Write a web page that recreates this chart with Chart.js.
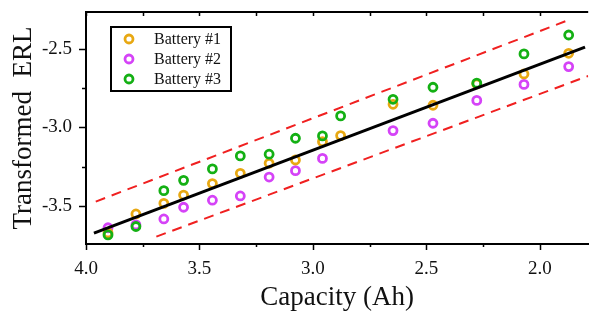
<!DOCTYPE html>
<html>
<head>
<meta charset="utf-8">
<script src="https://cdn.jsdelivr.net/npm/chart.js@4"></script>
<style>
  html, body { margin: 0; padding: 0; background: #fff; }
  #wrap { width: 595px; height: 323px; }
</style>
</head>
<body>
<div id="wrap"><canvas id="erlChart" width="595" height="323"></canvas></div>
<script>
// capacity (Ah) of each measurement, same for all batteries
const capacity = [3.903, 3.78, 3.657, 3.57, 3.443, 3.32, 3.193, 3.077, 2.958, 2.878, 2.647, 2.471, 2.278, 2.07, 1.873];
const battery1 = [-3.674, -3.553, -3.485, -3.432, -3.359, -3.293, -3.229, -3.208, -3.091, -3.052, -2.852, -2.858, -2.722, -2.658, -2.526];
const battery2 = [-3.641, -3.623, -3.585, -3.51, -3.465, -3.438, -3.317, -3.276, -3.198, null, -3.02, -2.973, -2.827, -2.725, -2.611];
const battery3 = [-3.687, -3.633, -3.404, -3.338, -3.265, -3.182, -3.171, -3.069, -3.054, -2.926, -2.82, -2.743, -2.717, -2.53, -2.409];

// fitted line and the two bounds (end points)
const fitX = [3.965, 1.801];
const fitY = [-3.676, -2.487];
const upperX = [3.957, 1.86];
const upperY = [-3.474, -2.306];
const lowerX = [3.69, 1.787];
const lowerY = [-3.698, -2.671];

const xTicks = [4.0, 3.5, 3.0, 2.5, 2.0];
const yTicks = [-3.5, -3.0, -2.5];
const seriesNames = ['Battery #1', 'Battery #2', 'Battery #3'];

const serif = "'Liberation Serif', 'DejaVu Serif', serif";

function pts(xs, ys) {
    return xs.map((x, i) => ({ x: x, y: ys[i] })).filter(p => p.y !== null);
}

function batterySet(label, ys, color, order) {
    return {
        type: 'scatter',
        label: label,
        data: pts(capacity, ys),
        borderColor: color,
        backgroundColor: 'rgba(0,0,0,0)',
        pointRadius: 4,
        pointBorderWidth: 2.8,
        pointHoverRadius: 4,
        order: order
    };
}

function lineSet(xs, ys, color, width, dash) {
    return {
        type: 'line',
        label: '',
        data: pts(xs, ys),
        borderColor: color,
        borderWidth: width,
        borderDash: dash,
        pointRadius: 0,
        fill: false,
        order: 0
    };
}

// frame, tick marks and the boxed legend
const decorations = {
    id: 'decorations',
    afterDraw(chart) {
        const ctx = chart.ctx;
        const area = chart.chartArea;
        const xs = chart.scales.x;
        const ys = chart.scales.y;
        ctx.save();
        ctx.strokeStyle = '#000';
        ctx.lineWidth = 2;
        ctx.beginPath();
        ctx.moveTo(area.left - 1, area.top);
        ctx.lineTo(area.right, area.top);
        ctx.stroke();

        ctx.lineWidth = 1.5;
        ctx.beginPath();
        for (let v = 4.0; v >= xs.min - 1e-9; v -= 0.25) {
            const px = Math.round(xs.getPixelForValue(v)) + 0.5;
            const major = Math.abs(v * 2 - Math.round(v * 2)) < 1e-6;
            ctx.moveTo(px, area.bottom);
            ctx.lineTo(px, area.bottom + (major ? 6 : 3));
            ctx.moveTo(px, area.top);
            ctx.lineTo(px, area.top + 4);
        }
        for (let v = -3.75; v <= ys.max + 1e-9; v += 0.25) {
            if (v < ys.min) continue;
            const py = Math.round(ys.getPixelForValue(v)) + 0.5;
            const major = Math.abs(v * 2 - Math.round(v * 2)) < 1e-6;
            ctx.moveTo(area.left, py);
            ctx.lineTo(area.left - (major ? 7 : 4), py);
        }
        ctx.stroke();

        // legend
        const bx = 111, by = 27, bw = 120, bh = 64;
        ctx.fillStyle = '#fff';
        ctx.fillRect(bx, by, bw, bh);
        ctx.lineWidth = 2;
        ctx.strokeRect(bx, by, bw, bh);
        ctx.font = '16px ' + serif;
        ctx.textBaseline = 'middle';
        ctx.textAlign = 'left';
        seriesNames.forEach((name, i) => {
            const ds = chart.data.datasets[i];
            const cy = 39 + i * 20;
            ctx.beginPath();
            ctx.strokeStyle = ds.borderColor;
            ctx.lineWidth = 2.8;
            ctx.arc(129, cy, 4, 0, Math.PI * 2);
            ctx.stroke();
            ctx.fillStyle = '#111';
            ctx.fillText(name, 154, cy + 1);
        });
        ctx.restore();
    }
};

const chart = new Chart(document.getElementById('erlChart').getContext('2d'), {
    data: {
        datasets: [
            batterySet(seriesNames[0], battery1, '#E8A812', 2),
            batterySet(seriesNames[1], battery2, '#D543F7', 3),
            batterySet(seriesNames[2], battery3, '#14B014', 1),
            lineSet(fitX, fitY, '#000', 3, []),
            lineSet(upperX, upperY, '#F02020', 2, [10, 7]),
            lineSet(lowerX, lowerY, '#F02020', 2, [10, 7])
        ]
    },
    options: {
        responsive: false,
        animation: false,
        devicePixelRatio: 1,
        layout: { padding: { top: 12, left: 0, right: 0, bottom: 0 } },
        plugins: {
            legend: { display: false },
            tooltip: { enabled: false }
        },
        scales: {
            x: {
                type: 'linear',
                position: 'bottom',
                reverse: true,
                min: 1.787,
                max: 4.0,
                afterBuildTicks: s => { s.ticks = xTicks.map(v => ({ value: v })); },
                afterFit: s => { s.height = 79; s.paddingLeft = 0; s.paddingRight = 0; },
                grid: { display: false, drawTicks: false },
                border: { display: true, color: '#000', width: 2 },
                ticks: {
                    color: '#111',
                    font: { family: serif, size: 19 },
                    padding: 14,
                    maxRotation: 0,
                    callback: v => v.toFixed(1)
                },
                title: {
                    display: true,
                    text: 'Capacity (Ah)',
                    color: '#111',
                    font: { family: serif, size: 27, lineHeight: 1 },
                    padding: { top: 0, bottom: 12 }
                }
            },
            y: {
                type: 'linear',
                position: 'left',
                min: -3.745,
                max: -2.262,
                afterBuildTicks: s => { s.ticks = yTicks.map(v => ({ value: v })); },
                afterFit: s => { s.width = 86; s.paddingTop = 0; s.paddingBottom = 0; },
                grid: { display: false, drawTicks: false },
                border: { display: true, color: '#000', width: 2 },
                ticks: {
                    color: '#111',
                    font: { family: serif, size: 19 },
                    padding: 14,
                    callback: v => v.toFixed(1)
                },
                title: {
                    display: true,
                    text: 'Transformed  ERL',
                    color: '#111',
                    font: { family: serif, size: 27, lineHeight: 1 },
                    padding: { top: 10, bottom: 0 }
                }
            }
        }
    },
    plugins: [decorations]
});
</script>
</body>
</html>
